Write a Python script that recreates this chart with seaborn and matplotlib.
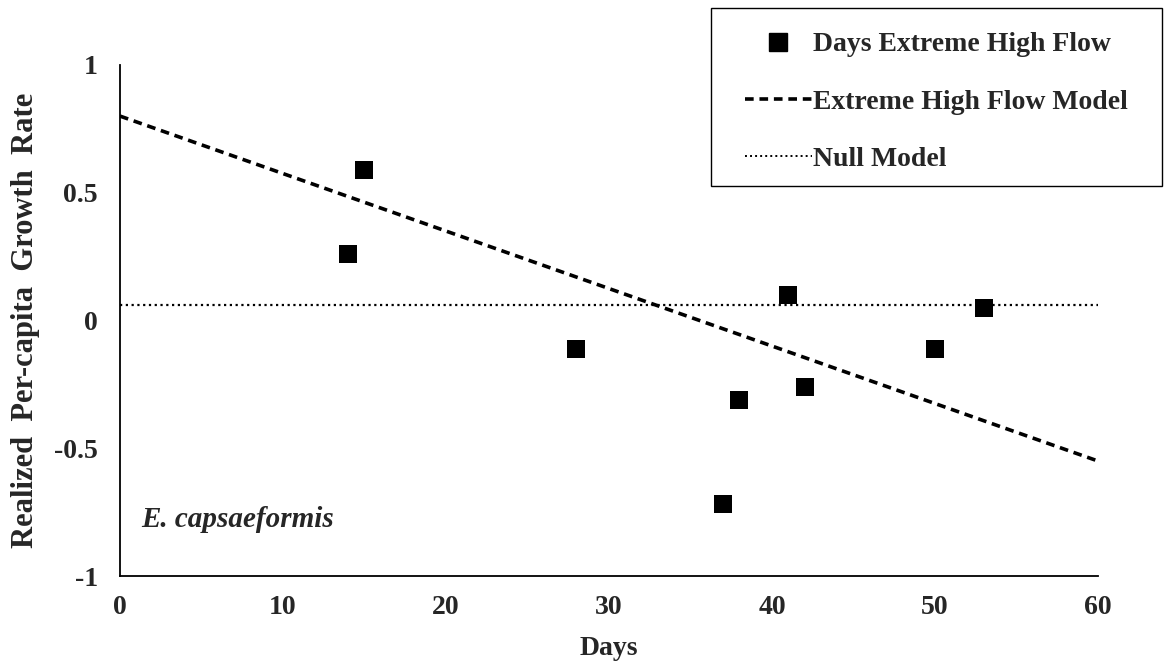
import numpy as np
import pandas as pd
import matplotlib
matplotlib.use('Agg')
import matplotlib.pyplot as plt
from matplotlib.lines import Line2D
from matplotlib.patches import Rectangle
import seaborn as sns

# data
days = [14, 15, 28, 37, 38, 41, 42, 50, 53]
growth = [0.26, 0.59, -0.11, -0.72, -0.31, 0.10, -0.26, -0.11, 0.05]

model_days = [0, 60]
model_rate = [0.80, -0.55]     # extreme high flow model (linear fit)
null_rate = [0.06, 0.06]       # null model (mean)

sns.set_style('white')
plt.rcParams['font.family'] = ['Liberation Serif', 'DejaVu Serif']
plt.rcParams['font.weight'] = 'bold'

df = pd.DataFrame({'Days': days, 'Rate': growth})
lines = pd.DataFrame({'Days': model_days, 'Model': model_rate, 'Null': null_rate})

fig = plt.figure(figsize=(11.66, 6.63), dpi=100)
ax = fig.add_axes([0.1029, 0.1312, 0.8388, 0.7708])

sns.lineplot(data=lines, x='Days', y='Null', ax=ax, color='black', lw=1.6,
             linestyle=(0, (1, 1.6)))
sns.lineplot(data=lines, x='Days', y='Model', ax=ax, color='black', lw=2.6,
             linestyle=(0, (2.4, 1.6)))
sns.scatterplot(data=df, x='Days', y='Rate', ax=ax, marker='s', s=185,
                color='black', edgecolor='black', linewidth=0, zorder=5)

ax.set_xlim(0, 60)
ax.set_ylim(-1, 1)
ax.set_xticks(range(0, 61, 10))
ax.set_yticks([-1, -0.5, 0, 0.5, 1])
ax.set_yticklabels(['-1', '-0.5', '0', '0.5', '1'])
ax.tick_params(axis='x', direction='in', length=7, width=1.3, labelsize=20, pad=14)
ax.tick_params(axis='y', length=0, labelsize=20, pad=16)
for lab in ax.get_xticklabels() + ax.get_yticklabels():
    lab.set_fontweight('bold')

for s in ['top', 'right']:
    ax.spines[s].set_visible(False)
for s in ['left', 'bottom']:
    ax.spines[s].set_color('black')
    ax.spines[s].set_linewidth(1.3)

ax.set_xlabel('Days', fontsize=20, fontweight='bold', labelpad=11)
ax.set_ylabel('Realized  Per-capita  Growth  Rate', fontsize=22, fontweight='bold', labelpad=10)

ax.text(0.022, 0.11, 'E. capsaeformis', transform=ax.transAxes, fontsize=21,
        fontweight='bold', fontstyle='italic', va='center', ha='left')

# legend box (frame drawn separately so padding can match the original)
fig.add_artist(Rectangle((0.6098, 0.7195), 0.3868, 0.2685, transform=fig.transFigure,
                         facecolor='white', edgecolor='black', lw=1.0, zorder=3))

handles = [
    Line2D([], [], marker='s', color='black', linestyle='none', markersize=13),
    Line2D([], [], color='black', lw=2.6, linestyle=(0, (2.4, 1.6))),
    Line2D([], [], color='black', lw=1.4, linestyle=(0, (1, 1.6))),
]
labels = ['Days Extreme High Flow', 'Extreme High Flow Model', 'Null Model']
leg = fig.legend(handles, labels, loc='center', bbox_to_anchor=(0.8032, 0.8460),
                 frameon=False, fontsize=20,
                 handlelength=2.4, handletextpad=0.05, labelspacing=1.15,
                 borderpad=0, borderaxespad=0)
leg.set_zorder(4)
for t in leg.get_texts():
    t.set_fontweight('bold')

fig.savefig('out.png', dpi=100)
